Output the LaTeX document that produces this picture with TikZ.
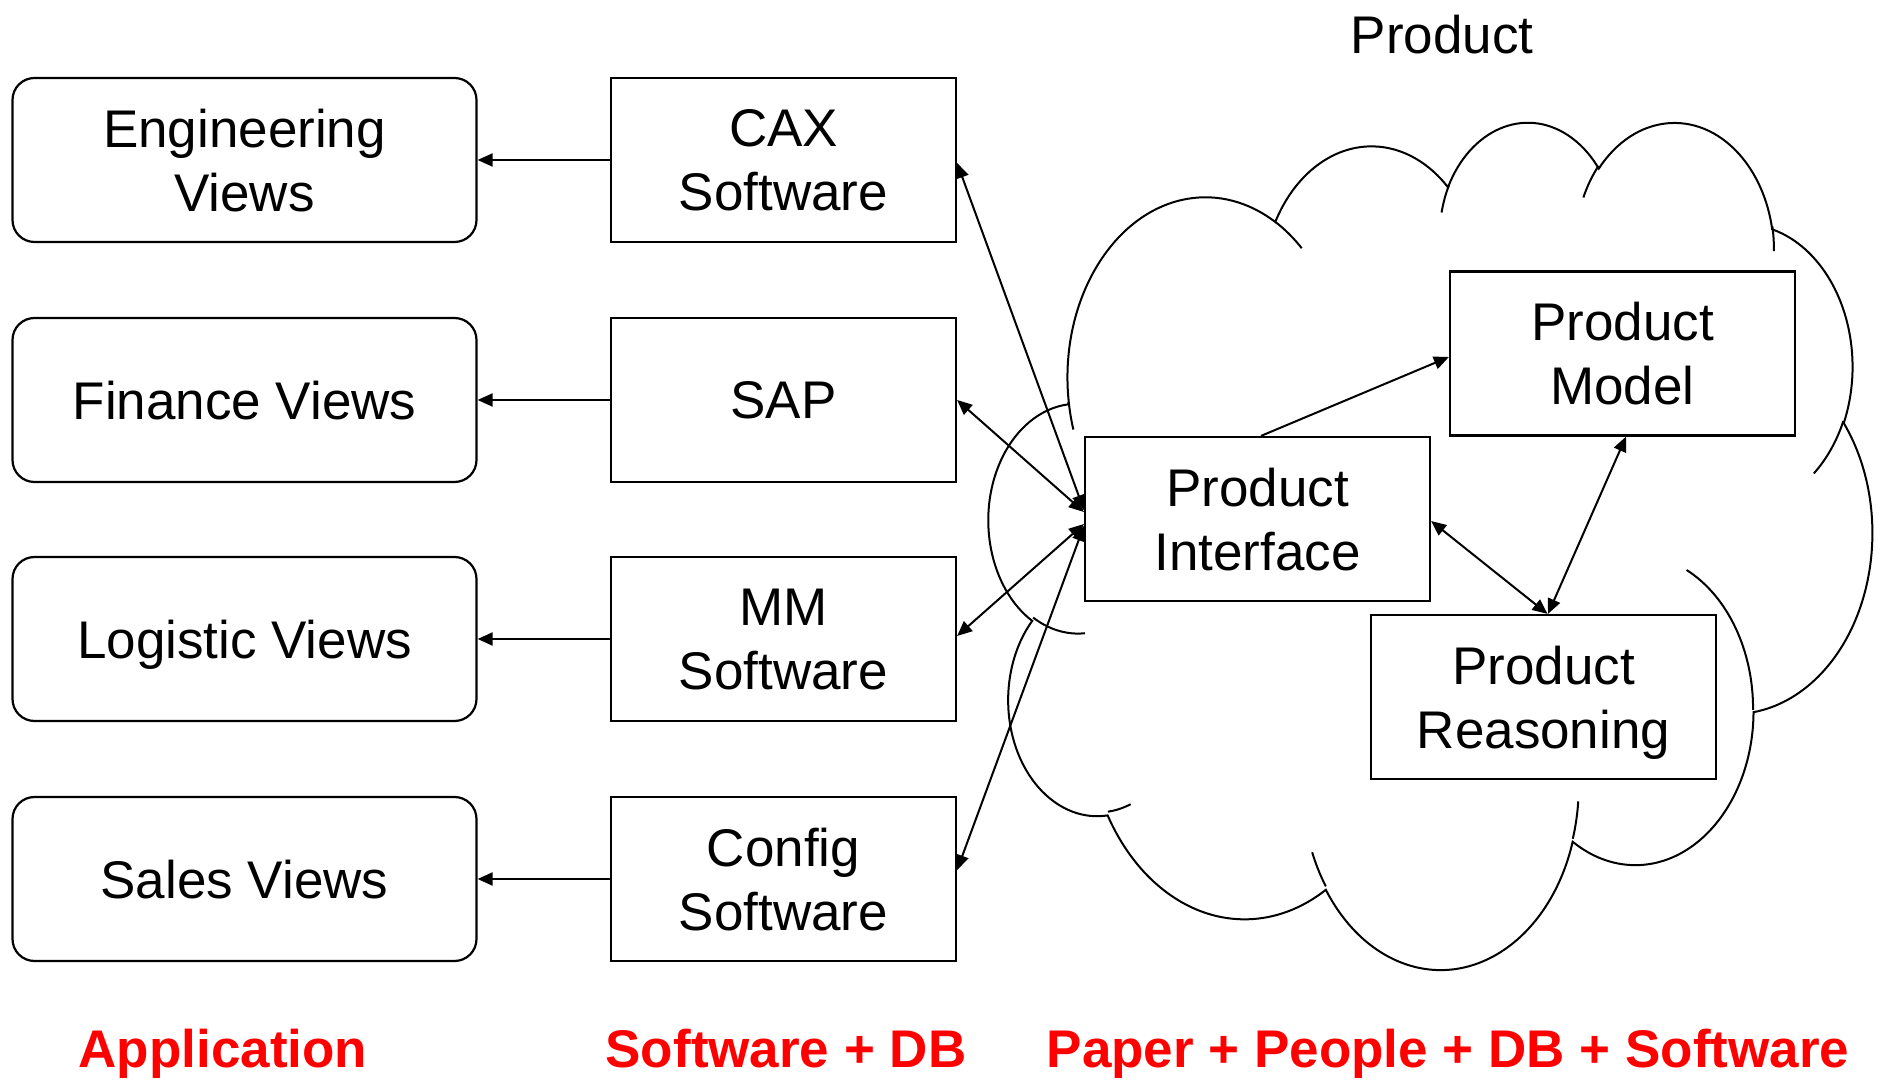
\documentclass[tikz,border=0pt]{standalone}
\usepackage{fontspec}
\setmainfont{Liberation Sans}
\usetikzlibrary{arrows.meta}

\begin{document}
\begin{tikzpicture}[x=1pt,y=1pt,
  every node/.style={font=\fontsize{53}{64}\selectfont, text depth=0pt},
  viewbox/.style={draw, line width=2.2pt, rounded corners=22pt, minimum width=464pt,
    minimum height=164pt, inner sep=0pt, align=center},
  sysbox/.style={draw, line width=2.2pt, fill=white, minimum width=345pt,
    minimum height=164pt, inner sep=0pt, align=center},
  tip/.tip={Triangle[length=15pt,width=13pt]},
  link/.style={line width=2pt, -tip},
  dlink/.style={line width=2pt, tip-tip},
  tier/.style={text=red, font=\fontsize{53}{64}\selectfont\bfseries, anchor=base},
  cloudline/.style={line width=2pt},
  % elliptical arc given by radii, visual start angle and sweep (degrees)
  cloud arc/.style n args={4}{insert path={
    arc[x radius=#1pt, y radius=#2pt,
        start angle={atan2(#1*sin(#3),#2*cos(#3))},
        delta angle={mod(atan2(#1*sin(#3+#4),#2*cos(#3+#4))-atan2(#1*sin(#3),#2*cos(#3))+720,360)}]}}
]
\useasboundingbox (0,0) rectangle (1879,1080);

% the product cloud, drawn in a 432 x 432 frame
\begin{scope}[shift={(989,960)}, xscale=2.0440, yscale=-1.9606]
  \draw[cloudline] (39.00,143.70)
    [cloud arc={67.53}{91.90}{-190.4875}{123.7805}]
    [cloud arc={53.33}{72.67}{-144.1024}{89.9452}]
    [cloud arc={43.65}{59.45}{-145.8079}{99.7230}]
    [cloud arc={48.57}{65.95}{-130.9861}{117.2417}]
    [cloud arc={53.33}{72.73}{-78.7089}{109.0269}]
    [cloud arc={67.75}{92.20}{-46.2673}{130.2690}]
    [cloud arc={57.85}{78.67}{0.6250}{114.0333}]
    [cloud arc={67.52}{92.15}{22.4516}{115.1726}]
    [cloud arc={77.20}{105.43}{66.2426}{75.7110}]
    [cloud arc={43.60}{59.18}{-274.9421}{146.7356}]
    [cloud arc={43.45}{59.45}{-246.8285}{152.5189}]
    -- cycle;
  \draw[cloudline]
    (46.93,261.77) [cloud arc={43.45}{59.45}{86.7420}{26.4295}]
    (69.28,348.99) [cloud arc={43.60}{59.18}{73.6105}{11.4475}]
    (164.78,390.90) [cloud arc={67.52}{92.15}{137.6241}{14.0811}]
    (288.27,347.51) [cloud arc={67.52}{92.15}{6.4533}{15.9984}]
    (341.29,229.54) [cloud arc={57.85}{78.67}{-70.2924}{70.9174}]
    (417.98,153.54) [cloud arc={53.33}{72.73}{30.3180}{27.7515}]
    (383.24,54.26) [cloud arc={48.57}{65.95}{-13.7443}{14.8589}]
    (290.78,39.52) [cloud arc={48.57}{65.95}{-149.1815}{18.1954}]
    (221.41,47.20) [cloud arc={43.65}{59.45}{-163.4943}{17.6864}]
    (140.00,51.92) [cloud arc={67.53}{91.90}{-66.7070}{12.3194}]
    (41.27,157.89) [cloud arc={67.53}{91.90}{157.6544}{11.8582}];
\end{scope}

% application views
\node[viewbox] (eng) at (244.5,920) {Engineering\\Views};
\node[viewbox] (fin) at (244.5,680) {Finance Views};
\node[viewbox] (log) at (244.5,441) {Logistic Views};
\node[viewbox] (sal) at (244.5,201) {Sales Views};

% software systems
\node[sysbox] (cax) at (783.5,920) {CAX\\Software};
\node[sysbox] (sap) at (783.5,680) {SAP};
\node[sysbox] (mm)  at (783.5,441) {MM\\Software};
\node[sysbox] (cfg) at (783.5,201) {Config\\Software};

% product side
\node[sysbox] (pi) at (1257.5,561) {Product\\Interface};
\node[sysbox] (pm) at (1622.5,726.5) {Product\\Model};
\node[sysbox] (pr) at (1543.5,383) {Product\\Reasoning};
\node[anchor=base] (title) at (1442,1026) {Product};

% tier captions
\node[tier] (lapp) at (223,13) {Application};
\node[tier] (lsw)  at (786,13) {Software + DB};
\node[tier] (lpap) at (1448,13) {Paper + People + DB + Software};

% connectors
\draw[link] (cax.west) -- (eng.east);
\draw[link] (sap.west) -- (fin.east);
\draw[link] (mm.west) -- (log.east);
\draw[link] (cfg.west) -- (sal.east);

\draw[dlink] ([yshift=-3pt]cax.east) -- ([yshift=9pt]pi.west);
\draw[dlink] (sap.east) -- ([yshift=7pt]pi.west);
\draw[dlink] ([yshift=3pt]mm.east) -- ([yshift=-5pt]pi.west);
\draw[dlink] ([yshift=9pt]cfg.east) -- ([yshift=-7pt]pi.west);

\draw[link] ([xshift=3.5pt]pi.north) -- ([yshift=-3.5pt]pm.west);
\draw[dlink] ([yshift=-2pt]pi.east) -- ([xshift=4pt]pr.north);
\draw[dlink] ([xshift=3.5pt]pm.south) -- ([xshift=4.5pt]pr.north);
\end{tikzpicture}
\end{document}
